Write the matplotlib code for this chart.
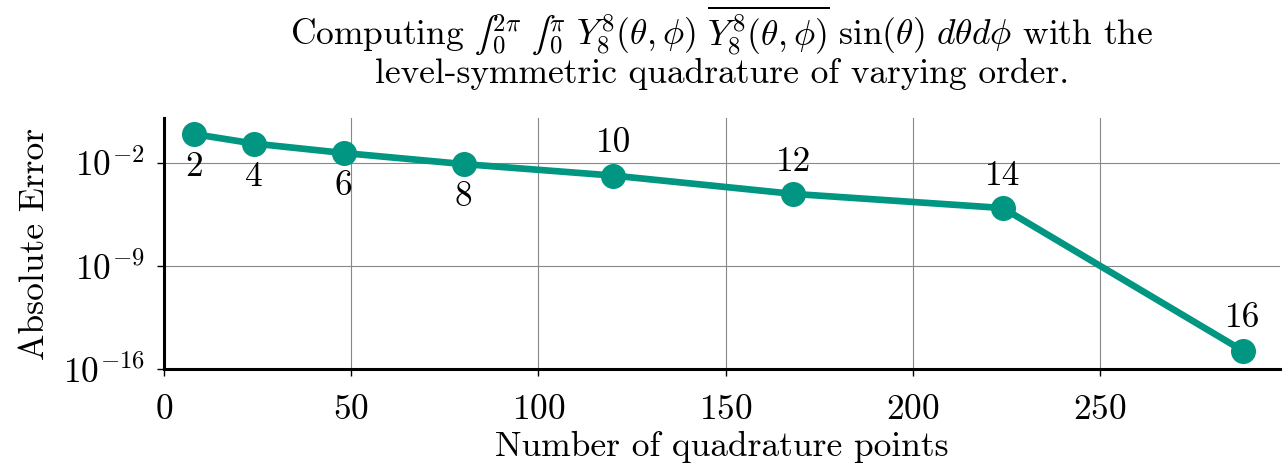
import numpy as np
import matplotlib
matplotlib.use("Agg")
import matplotlib.pyplot as plt

# level-symmetric quadrature: order N uses N(N+2) points
orders = [2, 4, 6, 8, 10, 12, 14, 16]
n_points = [8, 24, 48, 80, 120, 168, 224, 288]
abs_error = [9.3e-1, 2.1e-1, 4.8e-2, 8.5e-3, 1.4e-3, 8.0e-5, 8.7e-6, 1.8e-15]
label_below = [True, True, True, True, False, False, False, False]

plt.rcParams["font.family"] = "serif"
plt.rcParams["font.serif"] = ["cmr10"]
plt.rcParams["mathtext.fontset"] = "cm"
plt.rcParams["axes.formatter.use_mathtext"] = True

fs = 25.5
teal = "#009682"

fig = plt.figure(figsize=(12.85, 4.69), dpi=100)
ax = fig.add_axes([0.1276, 0.2132, 0.8685, 0.5352])

ax.plot(n_points, abs_error, color=teal, lw=4.8, marker="o", ms=17, zorder=3)

for n, err, order, below in zip(n_points, abs_error, orders, label_below):
    dy = -24 if below else 23
    ax.annotate(str(order), (n, err), xytext=(0, dy), textcoords="offset points",
                ha="center", va="center", fontsize=fs)

ax.set_yscale("log")
ax.set_xlim(0, 298)
ax.set_ylim(1e-16, 10 ** 1.06)
ax.set_xticks([0, 50, 100, 150, 200, 250])
ax.set_yticks([1e-16, 1e-9, 1e-2])
ax.minorticks_off()
ax.grid(True, color="#888888", lw=0.8)
ax.set_axisbelow(True)

for side in ("top", "right"):
    ax.spines[side].set_visible(False)
for side in ("left", "bottom"):
    ax.spines[side].set_linewidth(2.2)
ax.tick_params(direction="out", length=5, width=1.0, labelsize=fs)
ax.tick_params(axis="x", pad=13)
ax.tick_params(axis="y", pad=9)

ax.set_xlabel("Number of quadrature points", fontsize=fs, labelpad=4)
ax.set_ylabel("Absolute Error", fontsize=fs, labelpad=8)
ax.set_title(
    r"Computing $∫_0^{2\pi}\ ∫_0^{\pi}\ Y_8^8(\theta,\phi)\ \overline{Y_8^8(\theta,\phi)}\ \sin(\theta)\ d\theta d\phi$ with the"
    "\nlevel-symmetric quadrature of varying order.",
    fontsize=fs, pad=25, linespacing=1.0)

fig.savefig("out.png", dpi=100)
